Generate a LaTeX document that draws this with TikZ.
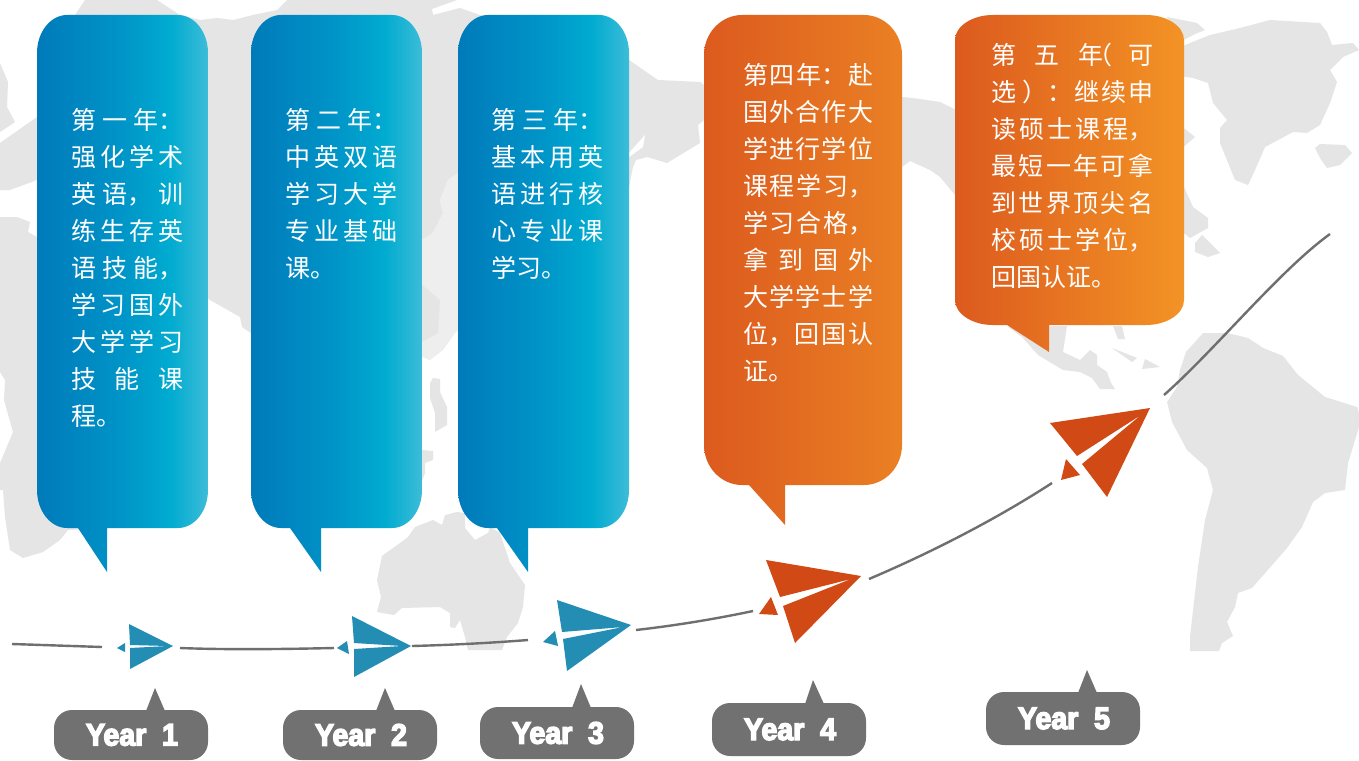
\documentclass[tikz,border=0pt]{standalone}
\usepackage{fontspec}
\newfontfamily\cjk{Noto Sans CJK SC}
\newfontfamily\yearfont{Liberation Sans}[BoldFeatures={FakeStretch=0.92,FakeBold=4.5}]
\XeTeXlinebreaklocale "zh"
\XeTeXlinebreakskip=0pt plus 30pt
\tolerance=10000
\definecolor{landgray}{HTML}{E5E5E5}
\definecolor{landlight}{HTML}{EEEEEE}
\definecolor{tagGray}{HTML}{717171}
\definecolor{lineGray}{HTML}{6F6F6F}
\definecolor{planeBlue}{HTML}{238DB3}
\definecolor{planeOrange}{HTML}{D14A15}
\definecolor{blue0}{HTML}{007ABA}
\definecolor{blue1}{HTML}{0095C8}
\definecolor{blue2}{HTML}{00ABD0}
\definecolor{blue3}{HTML}{3DBCD8}
\definecolor{org0}{HTML}{DC5A1E}
\definecolor{org1}{HTML}{EA8024}
\definecolor{org2}{HTML}{F39325}
\pgfdeclarehorizontalshading{bluebar}{100bp}{color(0bp)=(blue0); color(25bp)=(blue0); color(50bp)=(blue1); color(64bp)=(blue2); color(75bp)=(blue3); color(100bp)=(blue3)}
\pgfdeclarehorizontalshading{orangefour}{100bp}{color(0bp)=(org0); color(25bp)=(org0); color(75bp)=(org1); color(100bp)=(org1)}
\pgfdeclarehorizontalshading{orangefive}{100bp}{color(0bp)=(org0); color(25bp)=(org0); color(75bp)=(org2); color(100bp)=(org2)}
\tikzset{
  land/.style={fill=landgray},
  bubbletext/.style={anchor=north west,inner sep=0pt,align=justify,text=white,
    font=\cjk\fontsize{25}{37}\selectfont},
  yeartag/.style={fill=tagGray,rounded corners=18pt,minimum width=154pt,inner sep=0pt},
  yearlabel/.style={text=white,font=\yearfont\bfseries\fontsize{31}{31}\selectfont},
  route/.style={draw=lineGray,line width=2.4pt},
}
% left right top bottom rx ry, then the tail: start, tip, end on the bottom edge
\newcommand{\bubblepath}[9]{
  (#1+#5,#3) -- (#2-#5,#3) .. controls (#2-0.45*#5,#3) and (#2,#3+0.45*#6) .. (#2,#3+#6)
  -- (#2,#4-#6) .. controls (#2,#4-0.45*#6) and (#2-0.45*#5,#4) .. (#2-#5,#4)
  -- (#9,#4) -- (#9,#8) -- (#7,#4)
  -- (#1+#5,#4) .. controls (#1+0.45*#5,#4) and (#1,#4-0.45*#6) .. (#1,#4-#6)
  -- (#1,#3+#6) .. controls (#1,#3+0.45*#6) and (#1+0.45*#5,#3) .. (#1+#5,#3) -- cycle
}
\begin{document}
\begin{tikzpicture}[x=1pt,y=-1pt]
\useasboundingbox (0,0) rectangle (1359,760);
\fill[white] (0,0) rectangle (1359,760);

\fill[land] (0,143)--(37,117)--(37,80)--(60,40)--(75,15)--(85,0)--(157,0)--(180,15)--(200,20)--(217,18)--(233,20)--(253,15)--(277,10)--(287,0)--(457,0)--(432,9)--(433,15)--(460,8)--(480,15)--(629,60)--(658,80)--(700,82)--(704,85)--(704,120)--(698,125)--(700,143)--(667,163)--(647,157)--(636,160)--(633,167)--(629,187)--(458,173)--(448,180)--(440,200)--(443,213)--(433,233)--(422,240)--(300,360)--(251,333)--(242,327)--(240,317)--(210,300)--(110,240)--(110,180)--(37,180)--(10,190)--(0,190)--cycle;
\fill[white] (629,153)--(645,135)--(643,147)--(629,157)--cycle;
\fill[landlight] (458,173)--(448,180)--(440,200)--(443,213)--(433,233)--(422,240)--(422,357)--(430,360)--(443,350)--(455,333)--(458,330)--cycle;
\fill[land] (422,285)--(440,300)--(438,333)--(422,342)--cycle;
\fill[land] (0,63)--(8,82)--(7,107)--(15,122)--(0,132)--cycle;
\fill[land] (37,237)--(28,232)--(30,222)--(17,217)--(0,217)--(0,372)--(5,380)--(4,400)--(13,432)--(0,463)--(0,490)--(3,490)--(5,517)--(10,550)--(23,558)--(43,552)--(60,540)--(68,530)--(110,528)--(110,237)--cycle;
\fill[land] (902,97)--(913,98)--(940,102)--(960,112)--(960,200)--(955,195)--(940,177)--(930,170)--(910,161)--(902,167)--cycle;
\fill[land] (1167,17)--(1197,23)--(1205,30)--(1195,34)--(1180,42)--cycle;
\fill[land] (1180,47)--(1210,35)--(1240,28)--(1270,20)--(1320,23)--(1327,32)--(1332,45)--(1353,43)--(1359,50)--(1343,57)--(1330,70)--(1337,82)--(1330,103)--(1320,125)--(1307,133)--(1293,132)--(1265,147)--(1255,170)--(1248,185)--(1235,180)--(1220,143)--(1220,128)--(1227,120)--(1213,103)--(1208,83)--(1193,78)--(1180,76)--cycle;
\fill[land] (1180,125)--(1195,137)--(1180,150)--cycle;
\fill[land] (1180,187)--(1184,187)--(1193,207)--(1208,218)--(1208,228)--(1190,238)--(1180,230)--cycle;
\fill[land] (1195,243)--(1202,235)--(1220,253)--(1208,257)--(1195,252)--cycle;
\fill[land] (1315,148)--(1320,144)--(1345,145)--(1352,153)--(1340,165)--(1327,168)--(1320,158)--cycle;
\fill[land] (1008,327)--(1067,326)--(1063,352)--(1080,360)--(1090,350)--(1097,355)--(1097,365)--(1107,372)--(1111,383)--(1115,389)--(1100,389)--(1092,378)--(1080,372)--(1063,370)--(1038,355)--(1022,337)--cycle;
\fill[land] (1113,326)--(1122,326)--(1125,339)--(1118,339)--cycle;
\fill[land] (1112,348)--(1137,358)--(1132,362)--cycle;
\fill[land] (1145,359)--(1160,367)--(1142,369)--cycle;
\fill[land] (1203,333)--(1227,333)--(1248,338)--(1263,348)--(1283,356)--(1298,375)--(1325,397)--(1357,407)--(1359,413)--(1359,427)--(1348,463)--(1345,490)--(1325,493)--(1313,502)--(1302,527)--(1287,548)--(1252,588)--(1238,593)--(1235,607)--(1227,622)--(1233,636)--(1222,643)--(1219,651)--(1190,651)--(1190,637)--(1195,593)--(1198,567)--(1205,520)--(1213,490)--(1207,468)--(1187,450)--(1172,422)--(1167,402)--(1177,387)--(1180,370)--(1186,352)--cycle;
\fill[land] (382,556)--(400,543)--(408,537)--(415,527)--(433,520)--(442,525)--(445,515)--(457,512)--(465,513)--(465,528)--(475,540)--(488,533)--(490,527)--(500,533)--(510,563)--(525,585)--(523,607)--(518,623)--(507,637)--(502,650)--(468,650)--(465,637)--(460,620)--(455,628)--(450,627)--(450,613)--(440,607)--(402,608)--(394,615)--(377,612)--(381,597)--(377,580)--cycle;
\fill[land] (430,383)--(433,378)--(440,379)--(440,392)--(447,407)--(447,425)--(435,432)--(435,413)--(430,398)--cycle;
\fill[land] (422,450)--(433,451)--(433,460)--(425,463)--(425,473)--(422,481)--cycle;

\shade[shading=bluebar] \bubblepath{37}{208}{15}{528}{30}{38}{78}{572}{107};
\shade[shading=bluebar] \bubblepath{251}{422}{15}{528}{30}{38}{290}{572}{321};
\shade[shading=bluebar] \bubblepath{458}{629}{15}{528}{30}{38}{497}{572}{528};
\shade[shading=orangefour] \bubblepath{704}{902}{15}{485}{38}{40}{749}{525}{785};
\shade[shading=orangefive] \bubblepath{955}{1184}{15}{325}{38}{25}{1007}{352}{1049};

\node[bubbletext,text width=112pt] (text1) at (71,108.5) {第一年：\linebreak 强化学术\linebreak 英语，训\linebreak 练生存英\linebreak 语技能，\linebreak 学习国外\linebreak 大学学习\linebreak 技能课\linebreak 程。};
\node[bubbletext,text width=112pt] (text2) at (285,108.5) {第二年：\linebreak 中英双语\linebreak 学习大学\linebreak 专业基础\linebreak 课。};
\node[bubbletext,text width=112pt] (text3) at (491,108.5) {第三年：\linebreak 基本用英\linebreak 语进行核\linebreak 心专业课\linebreak 学习。};
\node[bubbletext,text width=130pt] (text4) at (743,63) {第四年：赴\linebreak 国外合作大\linebreak 学进行学位\linebreak 课程学习，\linebreak 学习合格，\linebreak 拿到国外\linebreak 大学学士学\linebreak 位，回国认\linebreak 证。};
\node[bubbletext,text width=162pt] (text5) at (991,43) {第五年\kern-16pt（\kern16pt 可\linebreak 选\kern6pt）：继续申\linebreak 读硕士课程，\linebreak 最短一年可拿\linebreak 到世界顶尖名\linebreak 校硕士学位，\linebreak 回国认证。};

\coordinate (r1a) at (12,644);
\coordinate (r1b) at (102,647);
\coordinate (r2a) at (180,648);
\coordinate (r2b) at (334,648);
\coordinate (r3a) at (412,646);
\coordinate (r3b) at (528,640);
\coordinate (r4a) at (636,630);
\coordinate (r4b) at (753,611);
\coordinate (r5a) at (869,579);
\coordinate (r5b) at (1052,483);
\coordinate (r6a) at (1164,395);
\coordinate (r6b) at (1330,234);
\draw[route] (r1a)--(r1b);
\draw[route] (r2a) .. controls (230,650) and (290,649) .. (r2b);
\draw[route] (r3a) .. controls (450,645) and (490,643) .. (r3b);
\draw[route] (r4a) .. controls (680,625) and (720,618) .. (r4b);
\draw[route] (r5a) .. controls (930,553) and (995,520) .. (r5b);
\draw[route] (r6a) .. controls (1215,350) and (1280,270) .. (r6b);

\fill[planeBlue] (129,624)--(173,646)--(130,669)--(130,648)--(168,646)--(130,645)--cycle;
\fill[planeBlue] (117,648)--(125,643)--(125,652)--cycle;
\fill[planeBlue] (352,616)--(411,646)--(354,677)--(354,649)--(402,646)--(354,643)--cycle;
\fill[planeBlue] (337,648)--(347,641)--(349,654)--cycle;
\fill[planeBlue] (557,600)--(631,625)--(567,671)--(563,639)--(623,627)--(562,632)--cycle;
\fill[planeBlue] (543,642)--(555,631)--(558,646)--cycle;
\fill[planeOrange] (766,560)--(861,576)--(795,643)--(783,606)--(851,579)--(780,597)--cycle;
\fill[planeOrange] (771,597)--(759,614)--(778,615)--cycle;
\fill[planeOrange] (1050,423)--(1150,408)--(1107,497)--(1082,464)--(1141,415)--(1077,456)--cycle;
\fill[planeOrange] (1066,459)--(1061,480)--(1080,475)--cycle;

\node[yeartag,minimum height=50pt] (tag1) at (131,735) {};
\node[yeartag,minimum height=50pt] (tag2) at (360,735) {};
\node[yeartag,minimum height=52pt] (tag3) at (557,733) {};
\node[yeartag,minimum height=53pt] (tag4) at (789,729.5) {};
\node[yeartag,minimum height=53pt] (tag5) at (1063,718.5) {};
\fill[tagGray] (146,711)--(155,688)--(165,711)--cycle;
\fill[tagGray] (376,711)--(385,688)--(395,711)--cycle;
\fill[tagGray] (572,708)--(581,684)--(591,708)--cycle;
\fill[tagGray] (805,704)--(813,680)--(824,704)--cycle;
\fill[tagGray] (1078,693)--(1087,670)--(1097,693)--cycle;
\node[yearlabel,xshift=1pt] (year1) at (tag1) {Year~~1};
\node[yearlabel,xshift=1pt] (year2) at (tag2) {Year~~2};
\node[yearlabel,xshift=1pt] (year3) at (tag3) {Year~~3};
\node[yearlabel,xshift=1pt] (year4) at (tag4) {Year~~4};
\node[yearlabel,xshift=1pt] (year5) at (tag5) {Year~~5};
\end{tikzpicture}
\end{document}
